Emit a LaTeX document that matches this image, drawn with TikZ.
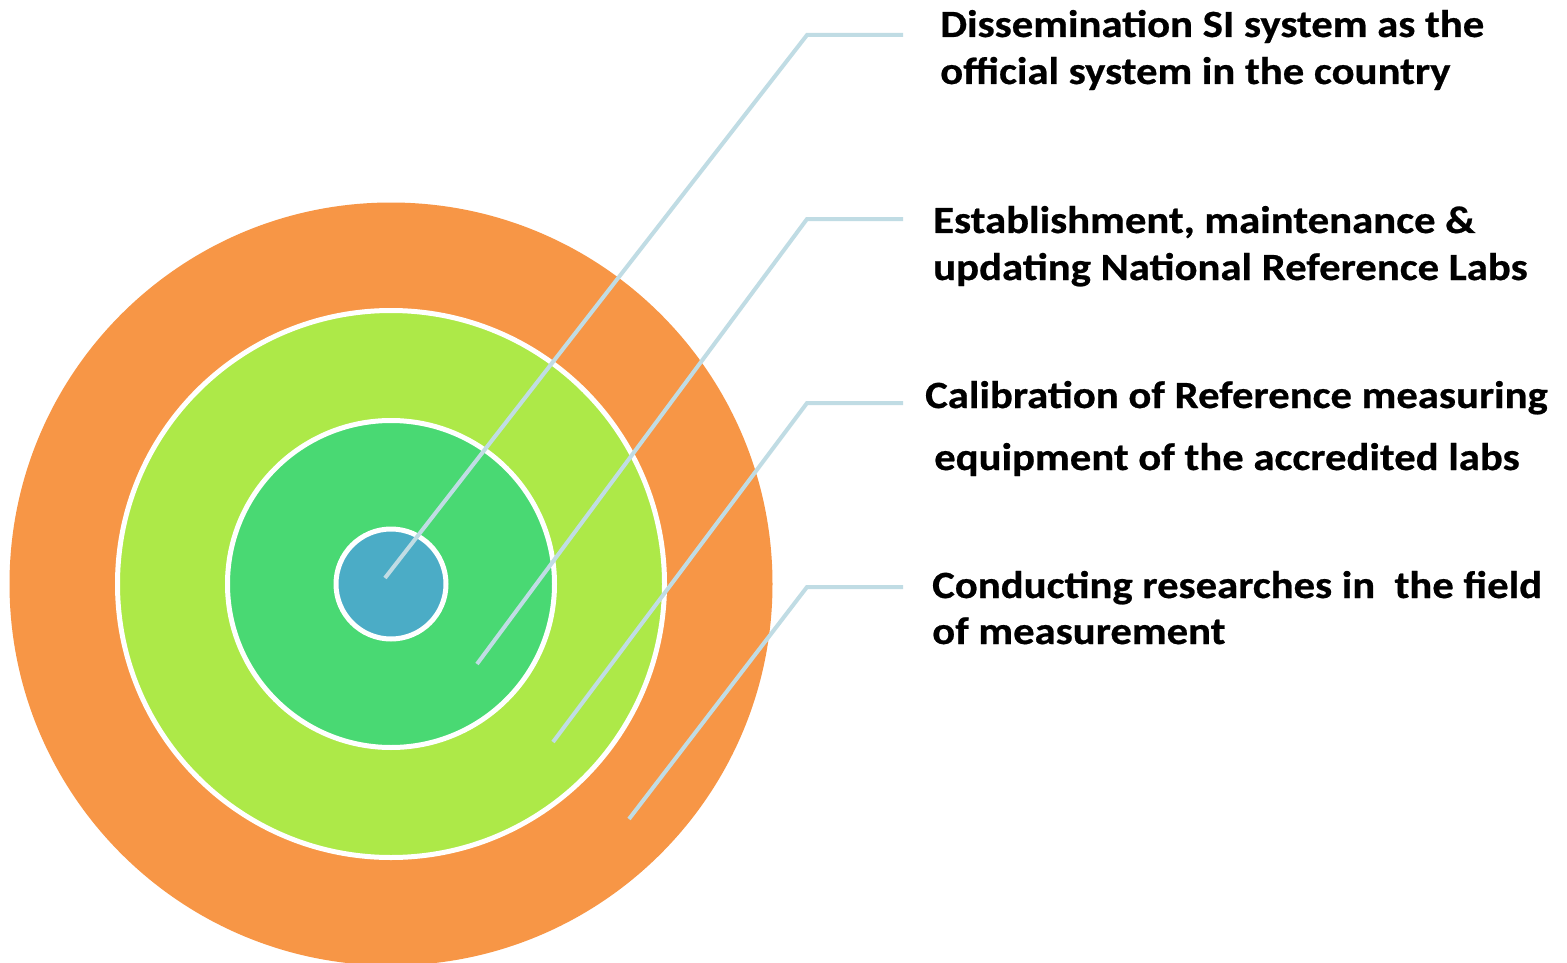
\documentclass[tikz,border=0pt]{standalone}
\usepackage{fontspec}
\setmainfont{Carlito}[FakeStretch=1.11]
\definecolor{orangeC}{HTML}{F79646}
\definecolor{limeC}{HTML}{ADE948}
\definecolor{greenC}{HTML}{49D973}
\definecolor{blueC}{HTML}{4BACC6}
\definecolor{lineC}{HTML}{C0DCE4}
\tikzset{
  ring/.style={draw=white, line width=5pt},
  leader/.style={draw=lineC, line width=4pt, line join=miter},
  lbl/.style={anchor=base west, inner sep=0pt, font=\fontsize{38.5}{46}\selectfont\bfseries\addfontfeature{FakeBold=0.6}, text=black}
}
\begin{document}
\begin{tikzpicture}[x=1pt,y=-1pt]
\useasboundingbox (0,0) rectangle (1567,963);
\fill[white] (0,0) rectangle (1567,963);
\coordinate (c) at (391,584);
\fill[orangeC] (c) circle[radius=381.5];
\path[ring, fill=limeC] (c) circle[radius=273.5];
\path[ring, fill=greenC] (c) circle[radius=163.5];
\path[ring, fill=blueC] (c) circle[radius=55];
% leader coordinates
\coordinate (s1) at (385,578);
\coordinate (b1) at (807,35);
\coordinate (e1) at (903,35);
\coordinate (s2) at (477,664);
\coordinate (b2) at (807,219);
\coordinate (e2) at (903,219);
\coordinate (s3) at (553,742);
\coordinate (b3) at (807,403);
\coordinate (e3) at (903,403);
\coordinate (s4) at (629,819);
\coordinate (b4) at (807,587);
\coordinate (e4) at (903,587);
\draw[leader] (s1) -- (b1) -- (e1);
\draw[leader] (s2) -- (b2) -- (e2);
\draw[leader] (s3) -- (b3) -- (e3);
\draw[leader] (s4) -- (b4) -- (e4);
% labels
\node[lbl] (t1a) at (940,37) {Dissemination SI system as the};
\node[lbl] (t1b) at (940,84) {official system in the country};
\node[lbl] (t2a) at (933,233) {Establishment, maintenance \&};
\node[lbl] (t2b) at (933,280) {updating National Reference Labs};
\node[lbl] (t3a) at (925,408) {Calibration of Reference measuring};
\node[lbl] (t3b) at (934,470) {equipment of the accredited labs};
\node[lbl] (t4a) at (932,598) {Conducting researches in\ \ the field};
\node[lbl] (t4b) at (932,644) {of measurement};
\end{tikzpicture}
\end{document}
